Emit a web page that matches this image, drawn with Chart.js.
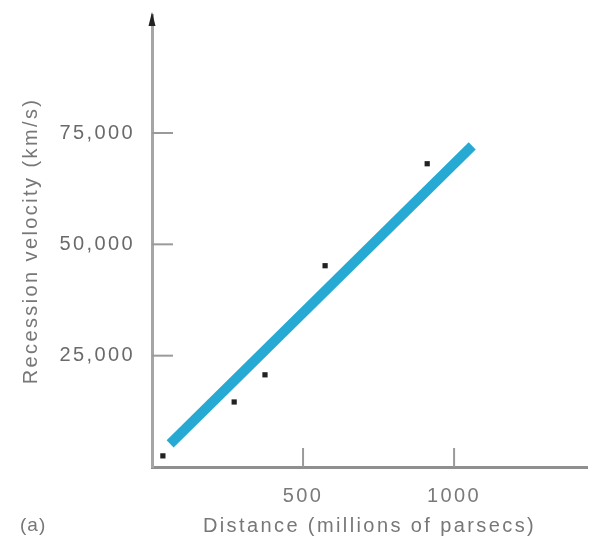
<!DOCTYPE html>
<html>
<head>
<meta charset="utf-8">
<script src="https://cdn.jsdelivr.net/npm/chart.js@4"></script>
<style>
html,body{margin:0;padding:0;background:#fff;}
#wrap{position:relative;width:591px;height:546px;}
#lbl{position:absolute;left:20px;top:514px;font-family:"Liberation Sans",Arial,sans-serif;font-size:19px;letter-spacing:1px;color:#777;}
</style>
</head>
<body>
<div id="wrap">
<canvas id="c" width="591" height="546"></canvas>
<span id="lbl">(a)</span>
</div>
<script>
const distances = [36, 272, 374, 573, 911];
const velocities = [2500, 14600, 20700, 45200, 68100];
const fitX = [60, 1060];
const fitY = [5200, 72100];
const xTicks = [500, 1000];
const yTicks = [25000, 50000, 75000];
const xTitle = 'Distance (millions of parsecs)';
const yTitle = 'Recession velocity (km/s)';

const FONT = '"Liberation Sans", Arial, sans-serif';

const spacing = {
  id: 'spacing',
  beforeDraw(chart) { chart.ctx.letterSpacing = '2.4px'; }
};

const innerTicks = {
  id: 'innerTicks',
  afterDatasetsDraw(chart) {
    const {ctx, chartArea, scales} = chart;
    ctx.save();
    ctx.strokeStyle = '#9a9a9a';
    ctx.lineWidth = 2;
    yTicks.forEach(v => {
      const y = scales.y.getPixelForValue(v);
      ctx.beginPath(); ctx.moveTo(chartArea.left, y); ctx.lineTo(chartArea.left + 21, y); ctx.stroke();
    });
    xTicks.forEach(v => {
      const x = scales.x.getPixelForValue(v);
      ctx.beginPath(); ctx.moveTo(x, chartArea.bottom); ctx.lineTo(x, chartArea.bottom - 19); ctx.stroke();
    });
    const ax = chartArea.left;
    const top = chartArea.top;
    ctx.fillStyle = '#222';
    ctx.beginPath();
    ctx.moveTo(ax, top - 3);
    ctx.lineTo(ax - 3.5, top + 11);
    ctx.lineTo(ax + 3.5, top + 11);
    ctx.closePath();
    ctx.fill();
    ctx.restore();
  }
};

new Chart(document.getElementById('c'), {
  type: 'scatter',
  data: {
    datasets: [
      {
        type: 'line',
        data: fitX.map((x, i) => ({x, y: fitY[i]})),
        borderColor: '#26aad3',
        borderWidth: 10,
        pointRadius: 0,
        borderCapStyle: 'butt',
        fill: false,
        order: 2
      },
      {
        data: distances.map((x, i) => ({x, y: velocities[i]})),
        pointStyle: 'rect',
        pointRadius: 3.7,
        backgroundColor: '#222',
        borderColor: '#222',
        borderWidth: 0,
        order: 1
      }
    ]
  },
  options: {
    responsive: false,
    animation: false,
    events: [],
    layout: {padding: {top: 0, right: 0, left: 0, bottom: 0}},
    plugins: {legend: {display: false}, tooltip: {enabled: false}},
    scales: {
      x: {
        type: 'linear',
        min: 0,
        max: 1440,
        afterFit(s) { s.height = 79; s.paddingLeft = 0; s.paddingRight = 0; },
        afterBuildTicks(s) { s.ticks = xTicks.map(v => ({value: v})); },
        grid: {display: true, drawOnChartArea: false, drawTicks: false},
        border: {display: true, color: '#8f8f8f', width: 3},
        ticks: {padding: 17, color: '#7a7a7a', font: {family: FONT, size: 20}, maxRotation: 0,
          callback: v => String(v)},
        title: {display: true, text: xTitle, color: '#777', font: {family: FONT, size: 20}, padding: {top: 0, bottom: 8}}
      },
      y: {
        type: 'linear',
        min: 0,
        max: 101500,
        afterFit(s) { s.width = 152; s.paddingTop = 15; s.paddingBottom = 0; },
        afterBuildTicks(s) { s.ticks = yTicks.map(v => ({value: v})); },
        grid: {display: true, drawOnChartArea: false, drawTicks: false},
        border: {display: true, color: '#a5a5a5', width: 3},
        ticks: {padding: 17, color: '#6a6a6a', font: {family: FONT, size: 20},
          callback: v => v.toLocaleString('en-US')},
        title: {display: true, text: yTitle, color: '#777', font: {family: FONT, size: 20}, padding: {top: 19, bottom: 0}}
      }
    }
  },
  plugins: [spacing, innerTicks]
});
</script>
</body>
</html>
